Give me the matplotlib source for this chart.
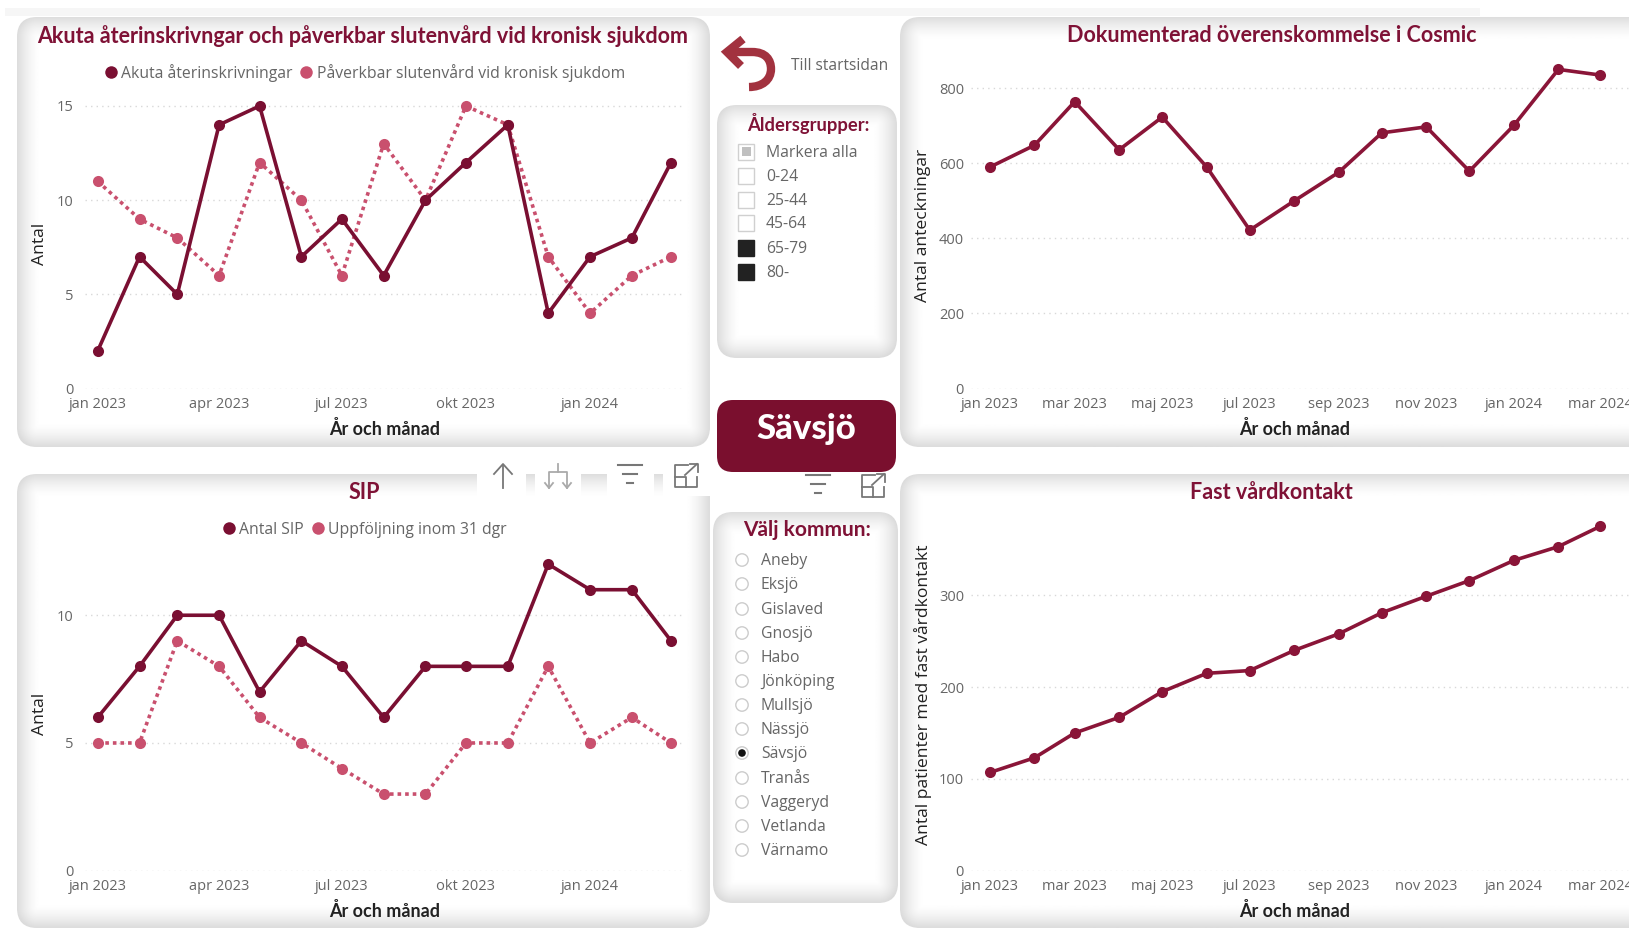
import numpy as np
import matplotlib
matplotlib.use('Agg')
import matplotlib.pyplot as plt
from matplotlib.lines import Line2D
from matplotlib.patches import Circle, FancyBboxPatch, Rectangle, PathPatch
from matplotlib.path import Path

# values
months = ['jan 2023', 'feb 2023', 'mar 2023', 'apr 2023', 'maj 2023', 'jun 2023', 'jul 2023', 'aug 2023',
          'sep 2023', 'okt 2023', 'nov 2023', 'dec 2023', 'jan 2024', 'feb 2024', 'mar 2024']
akuta = [2, 7, 5, 14, 15, 7, 9, 6, 10, 12, 14, 4, 7, 8, 12]
paverkbar = [11, 9, 8, 6, 12, 10, 6, 13, 10, 15, 14, 7, 4, 6, 7]
antal_sip = [6, 8, 10, 10, 7, 9, 8, 6, 8, 8, 8, 12, 11, 11, 9]
uppfoljning = [5, 5, 9, 8, 6, 5, 4, 3, 3, 5, 5, 8, 5, 6, 5]
cosmic = [590, 648, 764, 636, 723, 590, 422, 500, 576, 681, 697, 579, 701, 850, 835]
vardkontakt = [107, 123, 150, 167, 195, 215, 218, 240, 258, 281, 299, 316, 338, 353, 375]
aldersgrupper = ['Markera alla', '0-24', '25-44', '45-64', '65-79', '80-']
kommuner = ['Aneby', 'Eksjö', 'Gislaved', 'Gnosjö', 'Habo', 'Jönköping', 'Mullsjö', 'Nässjö',
            'Sävsjö', 'Tranås', 'Vaggeryd', 'Vetlanda', 'Värnamo']

# the x axis is a real date scale, so months are not evenly spaced
dates = np.arange('2023-01', '2024-04', dtype='datetime64[M]').astype('datetime64[D]')
days = (dates - dates[0]).astype(int)

W, H = 1629, 930
DARK = '#7a0f32'
PINK = '#c9506e'
TITLE = '#7f1236'
GREY = '#666666'
BODY = 'Open Sans'
HEAD = 'Lato'

fig = plt.figure(figsize=(W / 100, H / 100), dpi=100, facecolor='white')

# background layer in pixel coordinates, y going down
bg = fig.add_axes([0, 0, 1, 1])
bg.set_xlim(0, W)
bg.set_ylim(H, 0)
bg.axis('off')


def panel(x0, y0, x1, y1, rad=20, depth=24):
    # rounded box with a soft grey inner shadow
    xs = np.arange(x0, x1) + 0.5
    ys = np.arange(y0, y1) + 0.5
    xx, yy = np.meshgrid(xs, ys)
    cx, cy = (x0 + x1) / 2, (y0 + y1) / 2
    qx = np.abs(xx - cx) - ((x1 - x0) / 2 - rad)
    qy = np.abs(yy - cy) - ((y1 - y0) / 2 - rad)
    dist = rad - np.hypot(np.maximum(qx, 0), np.maximum(qy, 0)) - np.minimum(np.maximum(qx, qy), 0)
    shade = np.clip(1 - dist / depth, 0, 1) ** 1.5
    rgb = 1 - 0.14 * shade
    img = bg.imshow(rgb, cmap='gray', vmin=0, vmax=1, extent=(x0, x1, y1, y0), aspect='auto', zorder=1)
    box = FancyBboxPatch((x0 + rad, y0 + rad), x1 - x0 - 2 * rad, y1 - y0 - 2 * rad,
                         boxstyle='round,pad=%d,rounding_size=%d' % (rad, rad),
                         fc='none', ec='none', transform=bg.transData)
    bg.add_patch(box)
    img.set_clip_path(box)


def chart(left, right, base, top, first, last, ymax, ypad):
    # axes placed in pixels; first/last are the pixel x of the first and last month
    ax = fig.add_axes([left / W, 1 - base / H, (right - left) / W, (base - top) / H])
    ax.patch.set_alpha(0)
    per = (last - first) / days[-1]
    ax.set_xlim((left - first) / per, days[-1] + (right - last) / per)
    ax.set_ylim(0, ymax)
    for s in ax.spines.values():
        s.set_visible(False)
    ax.grid(axis='y', color='#d8d8d8', linestyle=(0, (1, 3)), linewidth=1)
    ax.set_axisbelow(True)
    ax.tick_params(axis='x', length=0, labelsize=10.5, labelcolor=GREY, pad=6)
    ax.tick_params(axis='y', length=0, labelsize=10.5, labelcolor=GREY, pad=ypad)
    return ax


def draw(ax, vals, color, dotted=False):
    ls = (0, (1, 1.1)) if dotted else '-'
    ax.plot(days, vals, color=color, linewidth=2.6, linestyle=ls, marker='o',
            markersize=8, markeredgewidth=0, clip_on=False, zorder=3)


def ticks(ax, step, yticks):
    ax.set_xticks(days[::step])
    ax.set_xticklabels(months[::step], family=BODY)
    ax.set_yticks(yticks)
    ax.set_yticklabels([str(v) for v in yticks], family=BODY)


def legend(ax, labels, colors, x, y):
    hs = [Line2D([], [], linestyle='none', marker='o', markersize=9, markeredgewidth=0, color=c) for c in colors]
    ax.legend(hs, labels, loc='center', bbox_to_anchor=(x / W, 1 - y / H), bbox_transform=fig.transFigure,
              ncol=len(labels), frameon=False, handlelength=0.7, handletextpad=0.3, columnspacing=0.55,
              prop={'family': BODY, 'size': 11.35}, labelcolor=GREY)


def ptext(x, y, s, **kw):
    kw.setdefault('ha', 'center')
    kw.setdefault('va', 'center')
    kw.setdefault('zorder', 6)
    bg.text(x, y, s, **kw)


def stroke(verts, codes, color='#777777', lw=1.3):
    bg.add_patch(PathPatch(Path(verts, codes), fc='none', ec=color, lw=lw, capstyle='butt', zorder=6))


def filter_icon(x, y):
    for dy, half in [(0, 12), (9, 7), (18, 3)]:
        bg.plot([x - half, x + half], [y + dy, y + dy], color='#777777', lw=1.5, zorder=6)


def expand_icon(x, y):
    bg.plot([x + 2, x - 11, x - 11, x + 11, x + 11], [y - 11, y - 11, y + 11, y + 11, y + 1],
            color='#777777', lw=1.3, zorder=6)
    bg.plot([x - 11, x + 0, x + 0], [y + 1, y + 1, y + 11], color='#777777', lw=1.3, zorder=6)
    bg.plot([x - 1, x + 11], [y - 1, y - 12], color='#777777', lw=1.3, zorder=6)
    bg.plot([x + 4, x + 12, x + 12], [y - 12, y - 12, y - 4], color='#777777', lw=1.3, zorder=6)


# page furniture
bg.add_patch(Rectangle((5, 8), 1475, 8, fc='#f6f6f6', ec='none', zorder=0))
panel(17, 17, 710, 447)
panel(17, 474, 710, 928)
panel(900, 17, 1670, 447)
panel(900, 474, 1670, 928)
panel(717, 105, 897, 358)
panel(713, 512, 898, 903)
bg.add_patch(FancyBboxPatch((717 + 16, 400 + 16), 179 - 32, 72 - 32, boxstyle='round,pad=16,rounding_size=16',
                            fc='#7a0f2e', ec='none', zorder=2))
ptext(806, 429, 'Sävsjö', color='white', family=HEAD, weight='black', size=25)

# chart 1
ax1 = chart(85, 684, 388.6, 96, 97.7, 671, 15.53, 8.5)
draw(ax1, paverkbar, PINK, dotted=True)
draw(ax1, akuta, DARK)
ticks(ax1, 3, [0, 5, 10, 15])
legend(ax1, ['Akuta återinskrivningar', 'Påverkbar slutenvård vid kronisk sjukdom'], [DARK, PINK], 365, 73)

# chart 2
ax2 = chart(85, 684, 870.7, 545, 97.7, 671, 12.75, 8.5)
draw(ax2, uppfoljning, PINK, dotted=True)
draw(ax2, antal_sip, DARK)
ticks(ax2, 3, [0, 5, 10])
legend(ax2, ['Antal SIP', 'Uppföljning inom 31 dgr'], [DARK, PINK], 365, 530)

# chart 3
ax3 = chart(971, 1629, 388.6, 60, 990, 1600, 875, 5)
draw(ax3, cosmic, '#8a1538')
ticks(ax3, 2, [0, 200, 400, 600, 800])

# chart 4
ax4 = chart(971, 1629, 870.7, 520, 990, 1600, 382, 5)
draw(ax4, vardkontakt, '#8a1538')
ticks(ax4, 2, [0, 100, 200, 300])

# titles and axis names
for x, y, s in [(363, 36, 'Akuta återinskrivngar och påverkbar slutenvård vid kronisk sjukdom'),
                (1272, 36, 'Dokumenterad överenskommelse i Cosmic'),
                (364, 492, 'SIP'),
                (1271, 492, 'Fast vårdkontakt')]:
    ptext(x, y, s, color=TITLE, family=HEAD, weight='bold', size=15.5)

for x, y in [(385, 429), (1295, 429), (385, 911), (1295, 911)]:
    ptext(x, y, 'År och månad', color='#222222', family=HEAD, weight='bold', size=13)

for x, y, s in [(40, 244, 'Antal'), (40, 714, 'Antal'), (923, 225, 'Antal anteckningar'),
                (923, 695, 'Antal patienter med fast vårdkontakt')]:
    ptext(x, y, s, color='#222222', family=BODY, size=12.6, rotation=90)

# back arrow
M, L, C = Path.MOVETO, Path.LINETO, Path.CURVE4
stroke([(743, 39), (727, 52), (741, 66)], [M, L, L], color='#a2323f', lw=6)
stroke([(727, 52), (752, 52), (766, 52), (771, 60), (771, 69), (771, 80), (762, 87), (749, 87)],
       [M, L, C, C, C, C, C, C], color='#a2323f', lw=6)
ptext(840, 66, 'Till startsidan', color=GREY, family=BODY, size=11.2)

# age slicer
ptext(808, 123, 'Åldersgrupper:', color=TITLE, family=HEAD, weight='bold', size=13.2)
age_y = [152, 176, 200, 223, 248, 272]
for i, (y, lab) in enumerate(zip(age_y, aldersgrupper)):
    filled = i >= 4
    bg.add_patch(Rectangle((738.5, y - 8), 16, 16, fc='#222222' if filled else 'white',
                           ec='#222222' if filled else '#d0d0d0', lw=1, zorder=5))
    if i == 0:
        bg.add_patch(Rectangle((742, y - 4.5), 9, 9, fc='#c0c0c0', ec='none', zorder=6))
    ptext(766, y + 1, lab, ha='left', color=GREY, family=BODY, size=11.3)

# municipality slicer
ptext(807, 530, 'Välj kommun:', color=TITLE, family=HEAD, weight='bold', size=15)
mun_y = [560, 584, 609, 633, 657, 681, 705, 729, 753, 778, 802, 826, 850]
for y, lab in zip(mun_y, kommuner):
    bg.add_patch(Circle((742, y), 6.2, fc='white', ec='#cccccc', lw=1, zorder=5))
    if lab == 'Sävsjö':
        bg.add_patch(Circle((742, y), 3.8, fc='#111111', ec='none', zorder=6))
    ptext(761, y + 1, lab, ha='left', color=GREY, family=BODY, size=11.3)

# visual header icons
for x0, x1 in [(477, 526), (535, 581), (607, 654), (663, 710)]:
    bg.add_patch(Rectangle((x0, 463), x1 - x0, 33, fc='white', ec='none', zorder=4))
bg.plot([503, 503], [465, 488], color='#777777', lw=1.3, zorder=6)
bg.plot([494, 503, 512], [474, 464, 474], color='#777777', lw=1.3, zorder=6)
bg.plot([558, 558], [464, 472], color='#aaaaaa', lw=1.3, zorder=6)
bg.plot([549, 549, 567, 567], [488, 472, 472, 488], color='#aaaaaa', lw=1.3, zorder=6)
bg.plot([545, 549, 553], [483, 488, 483], color='#aaaaaa', lw=1.3, zorder=6)
bg.plot([563, 567, 571], [483, 488, 483], color='#aaaaaa', lw=1.3, zorder=6)
filter_icon(630, 465)
expand_icon(686, 476)
filter_icon(818, 475)
expand_icon(873, 486)

fig.savefig('out.png', dpi=100)
